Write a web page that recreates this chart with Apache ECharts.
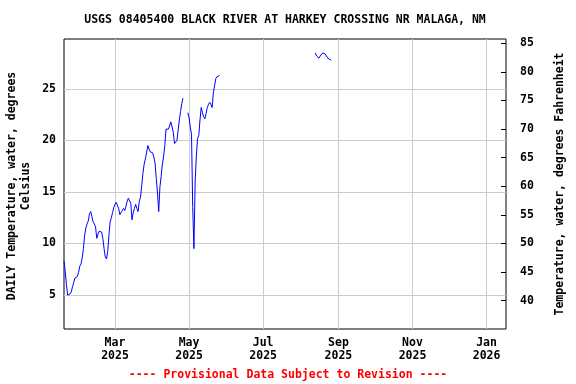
<!DOCTYPE html>
<html>
<head>
<meta charset="utf-8">
<script src="https://cdn.jsdelivr.net/npm/echarts@6/dist/echarts.min.js"></script>
<style>html,body{margin:0;padding:0;background:#fff}#c{width:576px;height:384px}</style>
</head>
<body>
<div id="c"></div>
<script>
// ---- data ----
const titleText = 'USGS 08405400 BLACK RIVER AT HARKEY CROSSING NR MALAGA, NM';
const footerText = '---- Provisional Data Subject to Revision ----';
const leftAxisName = 'DAILY Temperature, water, degrees\nCelsius';
const rightAxisName = 'Temperature, water, degrees Fahrenheit';

const segment1Start = [2025, 0, 18];
const segment1Values = [
  8.3, 7.3, 6.0, 5.0, 5.0, 5.1, 5.3, 5.8, 6.2, 6.65,
  6.6, 6.8, 7.2, 7.8, 8.0, 8.6, 9.5, 10.8, 11.5, 11.9,
  12.2, 12.9, 13.1, 12.6, 12.1, 11.9, 11.6, 10.5, 10.9, 11.2,
  11.3, 11.1, 10.5, 9.5, 8.7, 8.5, 9.2, 10.8, 12.1, 12.5,
  13.0, 13.5, 13.8, 14.0, 14.0, 13.4, 12.8, 12.8, 13.2, 13.4,
  13.2, 13.6, 14.1, 14.4, 14.5, 13.9, 12.3, 13.0, 13.4, 13.8,
  13.4, 13.1, 14.1, 14.5, 15.6, 16.8, 17.7, 18.2, 18.8, 19.5,
  19.4, 18.9, 18.8, 18.8, 18.4, 17.8, 16.3, 14.9, 13.1, 15.5,
  16.5, 17.7, 18.4, 19.5, 21.1, 21.2, 21.1, 21.1, 21.8, 21.8,
  20.8, 19.7, 19.8, 20.0, 21.0, 22.0, 22.8, 23.6, 24.1, null,
  null, null, 22.7, 22.2, 21.3, 20.6, 13.5, 9.5, 16.0, 18.5,
  20.2, 20.5, 22.0, 23.2, 22.7, 22.3, 22.1, 22.6, 23.2, 23.5,
  23.7, 23.5, 23.2, 24.6, 25.3, 26.0, 26.2, 26.1, 26.3
];
const segment2Start = [2025, 7, 13];
const segment2Values = [
  28.5, 28.2, 28.1, 28.0, 28.2, 28.3, 28.5, 28.6, 28.4, 28.2,
  28.1, 27.9, 28.0, 27.8
];

const xMinDate = [2025, 0, 18];
const xMaxDate = [2026, 0, 17];
const xTickDates = [[2025, 2, 1], [2025, 4, 1], [2025, 6, 1], [2025, 8, 1], [2025, 10, 1], [2026, 0, 1]];
const monthNames = ['Jan','Feb','Mar','Apr','May','Jun','Jul','Aug','Sep','Oct','Nov','Dec'];

const celsiusMin = 1.7, celsiusMax = 29.85;
const celsiusTicks = [5, 10, 15, 20, 25];
const fahrenheitTicks = [40, 45, 50, 55, 60, 65, 70, 75, 80, 85];

// ---- build ----
const t = (a, add) => new Date(a[0], a[1], a[2] + (add || 0)).getTime();
const seriesData = [];
segment1Values.forEach((v, i) => seriesData.push([t(segment1Start, i), v == null ? '-' : v]));
seriesData.push([t(segment1Start, segment1Values.length), '-']);
segment2Values.forEach((v, i) => seriesData.push([t(segment2Start, i), v == null ? '-' : v]));

const FONT = 'DejaVu Sans Mono';
const baseText = { fontFamily: FONT, fontWeight: 'bold', fontSize: 11.5, color: '#000' };
const xTicks = xTickDates.map(d => t(d));

const chart = echarts.init(document.getElementById('c'), null, { renderer: 'canvas' });
chart.setOption({
  animation: false,
  backgroundColor: '#fff',
  grid: { left: 64, right: 70, top: 39, bottom: 55, show: true, borderColor: '#000', borderWidth: 1, backgroundColor: 'transparent' },
  xAxis: {
    type: 'value',
    min: t(xMinDate), max: t(xMaxDate),
    axisLine: { show: false },
    axisTick: { show: false, customValues: xTicks },
    splitLine: { show: true, lineStyle: { color: '#cccccc', width: 1 } },
    axisLabel: {
      customValues: xTicks,
      ...baseText, lineHeight: 13, margin: 8,
      formatter: v => { const d = new Date(v); return monthNames[d.getMonth()] + '\n' + d.getFullYear(); }
    }
  },
  yAxis: [
    {
      type: 'value', min: celsiusMin, max: celsiusMax,
      axisLine: { show: false },
      axisTick: { show: false, customValues: celsiusTicks },
      splitLine: { show: true, lineStyle: { color: '#cccccc', width: 1 } },
      axisLabel: { customValues: celsiusTicks, ...baseText, margin: 8 }
    },
    {
      type: 'value', position: 'right',
      min: celsiusMin * 1.8 + 32, max: celsiusMax * 1.8 + 32,
      axisLine: { show: false },
      axisTick: { show: true, inside: true, length: 5, customValues: fahrenheitTicks, lineStyle: { color: '#000', width: 1 } },
      splitLine: { show: false },
      axisLabel: { customValues: fahrenheitTicks, ...baseText, margin: 14 }
    }
  ],
  series: [{
    type: 'line', yAxisIndex: 0, data: seriesData, showSymbol: false, symbol: 'none',
    connectNulls: false, lineStyle: { color: '#0000ff', width: 1 }
  }],
  graphic: [
    { type: 'text', x: 285, y: 20, style: { text: titleText, font: 'bold 11.5px "' + FONT + '"', fill: '#000', align: 'center', verticalAlign: 'middle' } },
    { type: 'text', x: 288, y: 375, style: { text: footerText, font: 'bold 11.5px "' + FONT + '"', fill: '#ff0000', align: 'center', verticalAlign: 'middle' } },
    { type: 'text', x: 19, y: 186, rotation: Math.PI / 2, style: { text: leftAxisName, font: 'bold 11.5px "' + FONT + '"', fill: '#000', align: 'center', verticalAlign: 'middle', lineHeight: 14 } },
    { type: 'text', x: 560, y: 184, rotation: Math.PI / 2, style: { text: rightAxisName, font: 'bold 11.5px "' + FONT + '"', fill: '#000', align: 'center', verticalAlign: 'middle' } }
  ]
});
</script>
</body>
</html>
